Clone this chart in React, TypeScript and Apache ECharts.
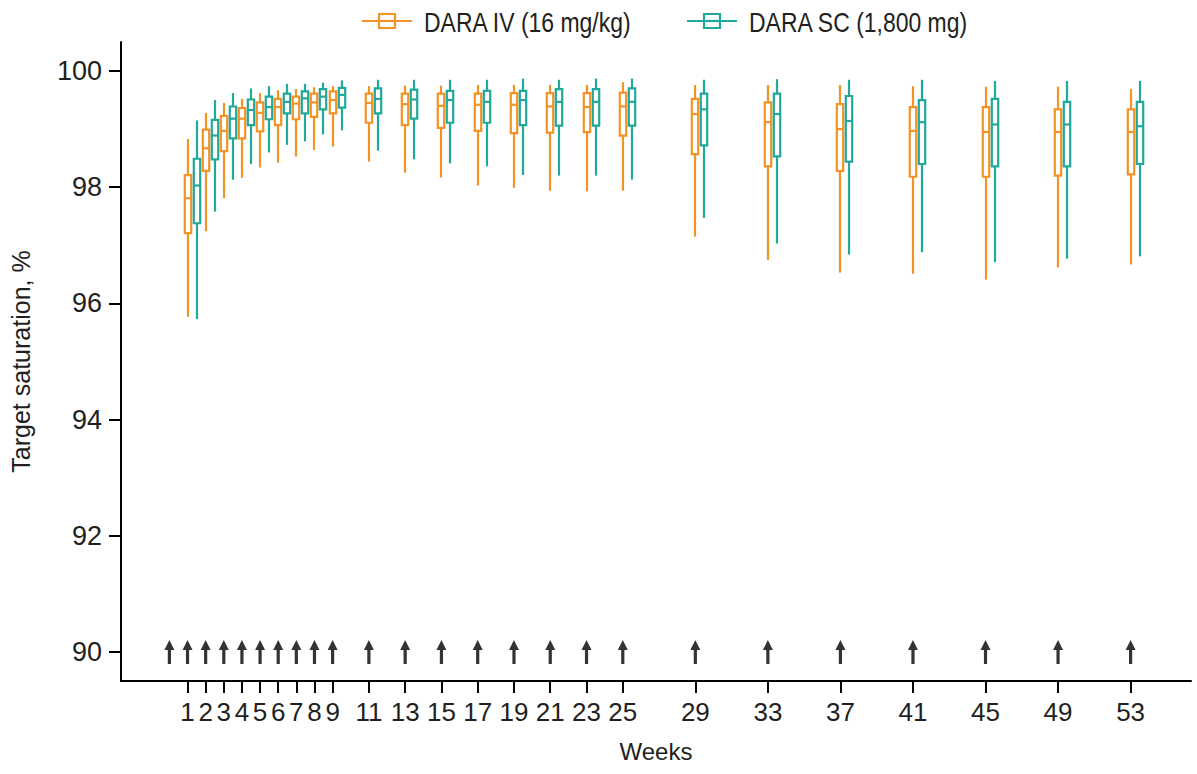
import React, { useEffect, useRef } from "react";
import * as echarts from "echarts";

// Week of each visit (x position)
const weeks = [1, 2, 3, 4, 5, 6, 7, 8, 9, 11, 13, 15, 17, 19, 21, 23, 25, 29, 33, 37, 41, 45, 49, 53];

// DARA IV (16 mg/kg) box statistics
const ivMax = [98.83, 99.28, 99.45, 99.52, 99.62, 99.67, 99.69, 99.72, 99.74, 99.74, 99.75, 99.75, 99.76, 99.76, 99.76, 99.76, 99.81, 99.76, 99.76, 99.76, 99.74, 99.73, 99.73, 99.69];
const ivQ3 = [98.21, 98.99, 99.23, 99.36, 99.46, 99.52, 99.56, 99.61, 99.65, 99.61, 99.61, 99.61, 99.61, 99.62, 99.62, 99.62, 99.63, 99.52, 99.46, 99.43, 99.38, 99.38, 99.34, 99.34];
const ivMedian = [97.81, 98.67, 98.97, 99.18, 99.28, 99.38, 99.44, 99.46, 99.5, 99.45, 99.43, 99.4, 99.42, 99.42, 99.39, 99.38, 99.39, 99.26, 99.12, 99.0, 98.97, 98.95, 98.95, 98.95];
const ivQ1 = [97.21, 98.28, 98.62, 98.84, 98.96, 99.07, 99.17, 99.21, 99.27, 99.11, 99.07, 99.02, 98.97, 98.93, 98.94, 98.95, 98.89, 98.57, 98.36, 98.28, 98.18, 98.18, 98.2, 98.22];
const ivMin = [95.77, 97.24, 97.81, 98.16, 98.34, 98.42, 98.53, 98.64, 98.7, 98.44, 98.25, 98.17, 98.03, 97.99, 97.94, 97.93, 97.94, 97.15, 96.75, 96.53, 96.51, 96.41, 96.62, 96.67];

// DARA SC (1,800 mg) box statistics
const scMax = [99.15, 99.5, 99.62, 99.7, 99.74, 99.78, 99.78, 99.8, 99.84, 99.85, 99.85, 99.85, 99.85, 99.87, 99.85, 99.87, 99.87, 99.85, 99.86, 99.85, 99.85, 99.83, 99.83, 99.83];
const scQ3 = [98.49, 99.16, 99.39, 99.51, 99.56, 99.61, 99.65, 99.69, 99.71, 99.7, 99.68, 99.66, 99.66, 99.66, 99.69, 99.69, 99.7, 99.61, 99.61, 99.57, 99.5, 99.52, 99.47, 99.47];
const scMedian = [98.03, 98.89, 99.18, 99.33, 99.38, 99.47, 99.53, 99.56, 99.59, 99.52, 99.51, 99.5, 99.47, 99.5, 99.47, 99.47, 99.47, 99.34, 99.26, 99.14, 99.12, 99.08, 99.08, 99.05];
const scQ1 = [97.38, 98.48, 98.84, 99.07, 99.17, 99.27, 99.27, 99.34, 99.37, 99.27, 99.18, 99.11, 99.11, 99.07, 99.06, 99.06, 99.06, 98.72, 98.53, 98.44, 98.4, 98.36, 98.36, 98.4];
const scMin = [95.73, 97.58, 98.13, 98.4, 98.6, 98.73, 98.79, 98.91, 98.98, 98.63, 98.48, 98.41, 98.36, 98.21, 98.2, 98.2, 98.13, 97.47, 97.03, 96.84, 96.88, 96.71, 96.77, 96.81];

// Dosing arrows (weeks)
const doseWeeks = [0, 1, 2, 3, 4, 5, 6, 7, 8, 9, 11, 13, 15, 17, 19, 21, 23, 25, 29, 33, 37, 41, 45, 49, 53];
const arrowLevel = 90;

// Axis ticks
const xTickValues = weeks;
const yTickValues = [90, 92, 94, 96, 98, 100];

const seriesNames = ["DARA IV (16 mg/kg)", "DARA SC (1,800 mg)"];
const ORANGE = "#F39325";
const TEAL = "#1FA89B";
const TEXT = "#231F20";
const FONT = '"Liberation Sans", Arial, Helvetica, sans-serif';

function buildRows(mn: number[], q1: number[], md: number[], q3: number[], mx: number[]) {
  return weeks.map((w, i) => [w, mn[i], q1[i], md[i], q3[i], mx[i]]);
}

function makeRenderItem(offsetPx: number, color: string) {
  return (params: any, api: any) => {
    const x = api.value(0);
    const pMin = api.coord([x, api.value(1)]);
    const pQ1 = api.coord([x, api.value(2)]);
    const pMed = api.coord([x, api.value(3)]);
    const pQ3 = api.coord([x, api.value(4)]);
    const pMax = api.coord([x, api.value(5)]);
    const cx = Math.round(pMin[0] + offsetPx);
    const hw = 3.2;
    const st = { stroke: color, lineWidth: 2.2, fill: "none" };
    return {
      type: "group",
      children: [
        { type: "line", shape: { x1: cx, y1: pMax[1], x2: cx, y2: pQ3[1] }, style: st },
        { type: "line", shape: { x1: cx, y1: pQ1[1], x2: cx, y2: pMin[1] }, style: st },
        { type: "rect", shape: { x: cx - hw, y: pQ3[1], width: hw * 2, height: pQ1[1] - pQ3[1] }, style: st },
        { type: "line", shape: { x1: cx - hw, y1: pMed[1], x2: cx + hw, y2: pMed[1] }, style: st },
      ],
    };
  };
}

function legendItem(x: number, color: string, label: string) {
  return {
    type: "group",
    children: [
      { type: "line", shape: { x1: x, y1: 21, x2: x + 50, y2: 21 }, style: { stroke: color, lineWidth: 2.2 } },
      { type: "rect", shape: { x: x + 17, y: 14, width: 16, height: 14 }, style: { stroke: color, lineWidth: 2.2, fill: "#fff" } },
      { type: "line", shape: { x1: x + 17, y1: 21, x2: x + 33, y2: 21 }, style: { stroke: color, lineWidth: 2.2 } },
      {
        type: "text",
        x: x + 62,
        y: 22,
        scaleX: 0.82,
        style: { text: label, fill: TEXT, font: `28px ${FONT}`, verticalAlign: "middle", align: "left" },
      },
    ],
  };
}

export default function App() {
  const ref = useRef<HTMLDivElement>(null);
  useEffect(() => {
    if (!ref.current) return;
    const chart = echarts.init(ref.current, undefined, { renderer: "svg" });
    chart.setOption({
      animation: false,
      backgroundColor: "#fff",
      textStyle: { fontFamily: FONT, color: TEXT },
      grid: { left: 121, right: 6, top: 42, bottom: 93, containLabel: false },
      xAxis: {
        type: "value",
        min: -2.668,
        max: 56.33,
        name: "Weeks",
        nameLocation: "middle",
        nameGap: 58,
        nameTextStyle: { fontSize: 24, color: TEXT, fontFamily: FONT },
        splitLine: { show: false },
        axisLine: { show: true, onZero: false, lineStyle: { color: "#000", width: 2 } },
        axisTick: { show: true, length: 12, lineStyle: { color: "#000", width: 2 }, customValues: xTickValues },
        axisLabel: {
          customValues: xTickValues,
          fontSize: 26,
          color: TEXT,
          fontFamily: FONT,
          margin: 18,
          hideOverlap: false,
        },
      },
      yAxis: {
        type: "value",
        min: 89.5,
        max: 100.5,
        name: "Target saturation, %",
        nameLocation: "middle",
        nameGap: 88,
        nameTextStyle: { fontSize: 25, color: TEXT, fontFamily: FONT },
        splitLine: { show: false },
        axisLine: { show: true, onZero: false, lineStyle: { color: "#000", width: 2 } },
        axisTick: { show: true, length: 12, lineStyle: { color: "#000", width: 2 }, customValues: yTickValues },
        axisLabel: { customValues: yTickValues, fontSize: 27, color: TEXT, fontFamily: FONT, margin: 19 },
      },
      series: [
        {
          name: seriesNames[0],
          type: "custom",
          renderItem: makeRenderItem(0, ORANGE),
          encode: { x: 0, y: [1, 2, 3, 4, 5] },
          data: buildRows(ivMin, ivQ1, ivMedian, ivQ3, ivMax),
          z: 3,
        },
        {
          name: seriesNames[1],
          type: "custom",
          renderItem: makeRenderItem(9, TEAL),
          encode: { x: 0, y: [1, 2, 3, 4, 5] },
          data: buildRows(scMin, scQ1, scMedian, scQ3, scMax),
          z: 3,
        },
        {
          name: "Dosing",
          type: "scatter",
          symbol: "path://M5,0 L10,10 L6.6,10 L6.6,24 L3.4,24 L3.4,10 L0,10 Z",
          symbolSize: [10, 24],
          itemStyle: { color: "#000" },
          data: doseWeeks.map((w) => [w, arrowLevel]),
          z: 2,
        },
      ],
      graphic: [legendItem(362, ORANGE, seriesNames[0]), legendItem(687, TEAL, seriesNames[1])],
    });
    return () => chart.dispose();
  }, []);
  return (
    <div
      ref={ref}
      style={{ position: "fixed", left: 0, top: 0, width: "1197px", height: "774px", background: "#fff" }}
    />
  );
}
